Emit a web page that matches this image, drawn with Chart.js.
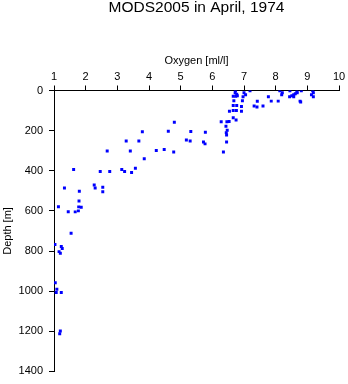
<!DOCTYPE html>
<html>
<head>
<meta charset="utf-8">
<script src="https://cdn.jsdelivr.net/npm/chart.js@4/dist/chart.umd.min.js"></script>
<style>
  html, body { margin: 0; padding: 0; background: #fff; }
  #wrap { width: 348px; height: 384px; }
</style>
</head>
<body>
<div id="wrap"><canvas id="oxyChart"></canvas></div>
<script>
// Cast profile: dissolved oxygen (ml/l) against depth (m)
const oxygen = [
  1.14, 1.33, 1.45, 1.54, 1.62, 1.67, 1.77, 1.78, 1.86, 1.79,
  1.80, 2.27, 2.30, 2.46, 2.54, 2.54, 2.68, 2.76, 3.14, 3.23,
  3.28, 3.41, 3.45, 3.57, 3.68, 3.79, 3.85, 4.23, 4.48, 4.61,
  4.78, 4.80, 5.18, 5.30, 5.32, 5.72, 5.77, 5.78, 6.35,
  1.03, 1.23, 1.26, 1.16, 1.20, 1.04, 1.09, 1.07, 1.23, 1.20, 1.18,
  6.45, 6.45, 6.47, 6.44, 6.43, 6.28, 6.46, 6.53, 6.66, 6.75,
  6.54, 6.66, 6.76, 6.92, 6.66, 6.77, 6.92, 6.68, 6.95, 6.66,
  6.74, 6.79, 6.97, 6.73, 6.72, 6.77, 7.00, 7.05, 7.19, 7.42,
  7.32, 7.41, 7.60, 7.77, 7.86, 8.08, 8.13, 8.21, 8.19, 8.45,
  8.67, 8.62, 8.68, 8.81, 8.57, 8.51, 8.44, 8.77, 8.79, 9.17,
  9.19, 9.13, 9.19, 8.57
];
const depth = [
  579, 486, 604, 712, 394, 605, 600, 580, 582, 551,
  502, 471, 486, 404, 482, 505, 301, 404, 394, 404,
  252, 301, 409, 388, 252, 206, 340, 299, 294, 203,
  306, 158, 247, 252, 204, 257, 266, 208, 306,
  767, 777, 787, 803, 811, 958, 991, 1007, 1007, 1199, 1212,
  257, 222, 198, 210, 178, 156, 156, 154, 136, 147,
  103, 100, 100, 103, 75, 75, 80, 51, 51, 29,
  29, 26, 31, 1, 11, 18, 11, 21, 1, 54,
  77, 82, 77, 31, 53, 53, 1, 11, 21, 1,
  6, 16, 11, 1, 21, 26, 31, 53, 57, 1,
  11, 21, 31, 31
];

const fontFamily = '"Liberation Sans", Arial, Helvetica, sans-serif';

const points = oxygen.map((o, i) => ({ x: o, y: depth[i] }));

new Chart(document.getElementById('oxyChart'), {
  type: 'scatter',
  data: {
    datasets: [{
      data: points,
      pointStyle: 'rect',
      pointRadius: 2.1,
      pointBorderWidth: 0,
      backgroundColor: '#0000ff',
      borderColor: '#0000ff'
    }]
  },
  options: {
    responsive: true,
    maintainAspectRatio: false,
    animation: false,
    layout: { padding: { left: 0, right: 9, top: 0, bottom: 9 } },
    plugins: {
      legend: { display: false },
      tooltip: { enabled: false },
      title: {
        display: true,
        fullSize: false,
        text: 'MODS2005 in April, 1974',
        color: '#000',
        font: { family: fontFamily, size: 15.5, weight: 'normal', lineHeight: 1 },
        padding: { top: 0, bottom: 0 }
      }
    },
    scales: {
      x: {
        type: 'linear',
        position: 'top',
        min: 1,
        max: 10,
        afterFit: s => { s.height = 75; },
        ticks: {
          stepSize: 1,
          padding: 2,
          color: '#000',
          font: { family: fontFamily, size: 11 },
          callback: v => String(v)
        },
        grid: { drawOnChartArea: false, drawTicks: true, tickLength: 5, color: '#000' },
        border: { display: true, color: '#000', width: 1 },
        title: {
          display: true,
          text: 'Oxygen [ml/l]',
          color: '#000',
          font: { family: fontFamily, size: 11 },
          padding: { top: 39, bottom: 0 }
        }
      },
      y: {
        type: 'linear',
        reverse: true,
        min: 0,
        max: 1400,
        afterFit: s => { s.width = 54; },
        ticks: {
          stepSize: 200,
          padding: 6,
          color: '#000',
          font: { family: fontFamily, size: 11 },
          // plain integers, no thousands separator
          callback: v => String(v)
        },
        grid: { drawOnChartArea: false, drawTicks: true, tickLength: 5, color: '#000' },
        border: { display: true, color: '#000', width: 1 },
        title: {
          display: true,
          text: 'Depth [m]',
          color: '#000',
          font: { family: fontFamily, size: 11 },
          padding: { top: 1, bottom: 0 }
        }
      }
    }
  }
});
</script>
</body>
</html>
